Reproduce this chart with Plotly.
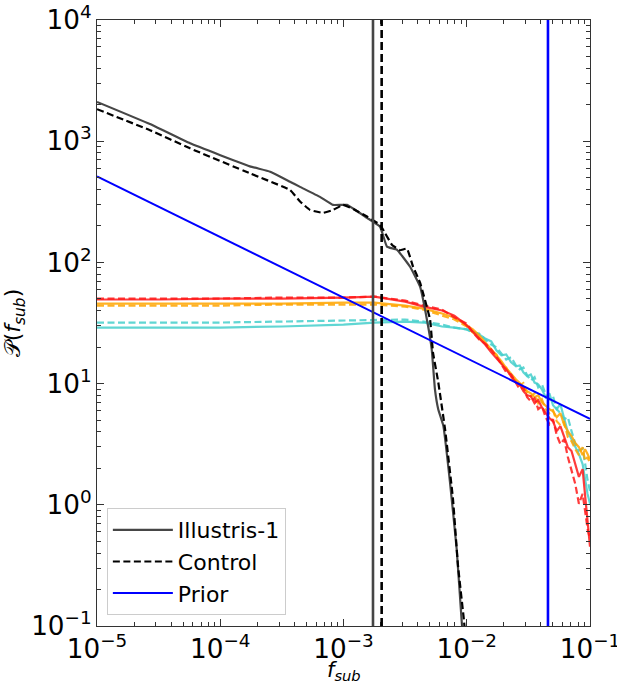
import plotly.graph_objects as go

# ---------------- data ----------------
illustris_f = [1.0e-5, 2.69e-5, 5.69e-5, 1.74e-4, 2.54e-4, 3.68e-4, 4.44e-4, 6.44e-4, 8.22e-4,
               1.067e-3, 1.55e-3, 1.98e-3, 2.25e-3, 2.72e-3, 3.47e-3, 4.18e-3, 4.75e-3, 5.2e-3,
               5.52e-3, 5.87e-3, 6.46e-3, 7.31e-3, 8.28e-3, 9.1e-3, 9.55e-3]
illustris_p = [2110, 1384, 960, 620, 560, 463, 420, 347, 298,
               298, 233, 197, 135, 127, 92, 63, 33.8, 19.1,
               8.98, 6.15, 4.48, 1.54, 0.434, 0.109, 0.06]

control_f = [1.0e-5, 2.69e-5, 5.69e-5, 1.74e-4, 3.68e-4, 4.44e-4, 5.35e-4, 6.82e-4, 8.22e-4,
             9.91e-4, 1.24e-3, 1.55e-3, 1.98e-3, 2.17e-3, 2.47e-3, 2.87e-3, 3.27e-3, 3.66e-3,
             4.18e-3, 5.04e-3, 5.32e-3, 5.87e-3, 6.67e-3, 7.73e-3, 8.49e-3, 9.51e-3, 9.86e-3]
control_p = [1837, 1233, 873, 543, 396, 318, 271, 256, 271,
             298, 271, 239, 204, 175, 140, 126, 130, 92.7,
             68, 33.8, 18.1, 10.3, 4.2, 1.12, 0.316, 0.109, 0.07]

prior_f = [1.0e-5, 1.0e-1]
prior_p = [512, 5.12]

# shared abscissae of the six coloured posterior curves
post_f = [1.0e-5, 3.16e-5, 1.0e-4, 3.16e-4, 1.0e-3, 1.78e-3, 3.16e-3, 4.47e-3, 6.31e-3, 7.94e-3,
          0.0100, 0.0112, 0.0126, 0.0141, 0.0158, 0.0174, 0.0191, 0.0209, 0.0229, 0.0251,
          0.0269, 0.0288, 0.0309, 0.0331, 0.0355, 0.0380, 0.0407, 0.0437, 0.0468, 0.0501,
          0.0537, 0.0575, 0.0617, 0.0661, 0.0708, 0.0759, 0.0813, 0.0871, 0.0912, 0.0955, 0.1000]

red_solid = [49.4, 49.4, 50.3, 50.3, 51.3, 52.2, 47.5, 43.2, 40.1, 36.4,
             30.2, 26.9, 24.0, 21.0, 18.1, 16.2, 14.7, 13.1, 11.5, 10.2,
             9.87, 8.65, 8.01, 7.86, 6.89, 7.29, 6.38, 5.70, 5.19, 4.90,
             4.05, 4.46, 3.62, 2.99, 2.78, 2.17, 1.70, 1.97, 1.18, 0.766, 0.451]
red_dashed = [50.3, 50.3, 50.3, 51.3, 51.3, 52.2, 48.4, 44.0, 40.8, 35.1,
              31.3, 26.4, 23.1, 21.4, 19.1, 16.8, 14.4, 12.4, 11.9, 10.1,
              8.98, 9.32, 7.72, 7.15, 7.57, 6.15, 6.51, 5.28, 4.63, 5.09,
              3.76, 3.17, 3.48, 2.48, 1.97, 1.49, 1.02, 1.23, 0.891, 0.634, 0.524]
orange_solid = [45.7, 45.7, 45.7, 45.7, 46.6, 46.6, 44.0, 41.6, 37.9, 35.1,
                30.2, 28.0, 25.0, 21.9, 19.1, 16.8, 15.3, 13.4, 11.9, 10.8,
                10.1, 9.15, 8.65, 8.32, 7.72, 8.01, 7.02, 6.51, 6.15, 5.92,
                5.28, 5.70, 4.54, 4.05, 3.69, 3.23, 2.99, 2.57, 2.88, 2.62, 2.38]
orange_dashed = [44.0, 44.0, 44.0, 44.9, 44.9, 44.9, 43.2, 40.8, 36.4, 33.8,
                 29.6, 26.4, 23.6, 21.4, 18.4, 17.4, 14.7, 13.6, 11.5, 10.4,
                 9.68, 10.1, 8.32, 7.86, 8.32, 6.89, 7.43, 6.15, 5.70, 6.03,
                 4.90, 4.54, 4.81, 3.62, 3.35, 2.88, 2.57, 2.99, 2.30, 2.48, 2.20]
teal_solid = [29.0, 29.0, 29.0, 29.6, 30.7, 31.9, 32.5, 31.9, 29.6, 29.0,
              28.0, 26.9, 25.4, 23.6, 22.3, 18.8, 17.1, 17.4, 15.0, 13.9,
              14.1, 12.4, 11.5, 11.9, 10.2, 9.87, 8.98, 7.72, 8.32, 6.63,
              6.15, 6.76, 5.28, 3.98, 3.48, 3.05, 2.62, 2.17, 1.63, 1.23, 1.02]
teal_dashed = [31.9, 31.9, 31.9, 32.5, 33.2, 33.8, 33.8, 32.5, 30.7, 29.0,
               28.0, 26.4, 25.9, 23.1, 21.0, 19.9, 17.8, 15.8, 16.5, 14.1,
               13.1, 13.6, 11.7, 10.6, 11.3, 9.32, 9.87, 8.17, 7.43, 7.86,
               6.15, 5.70, 5.09, 5.28, 4.05, 3.20, 2.80, 2.90, 2.20, 1.60, 1.30]

vline_illustris = 1.735e-3
vline_control = 2.04e-3
vline_prior = 0.0456

x_range_log = [-5, -1]
y_range_log = [-1, 4]

x_title = "<i>f</i><sub><i>sub</i></sub>"
y_title = "𝒫(<i>f</i><sub><i>sub</i></sub>)"

# ---------------- figure ----------------
GRAY = "#464646"
RED = "#ff1a1a"
ORANGE = "#ffa500"
TEAL = "#45cfcc"
DASH = "7px,3.5px"

fig = go.Figure()

posteriors = [
    (teal_solid, TEAL, "solid"),
    (teal_dashed, TEAL, DASH),
    (orange_solid, ORANGE, "solid"),
    (orange_dashed, ORANGE, DASH),
    (red_solid, RED, "solid"),
    (red_dashed, RED, DASH),
]
for vals, col, dash in posteriors:
    fig.add_trace(go.Scatter(x=post_f, y=vals, mode="lines", showlegend=False,
                             line=dict(color=col, width=2.2, dash=dash), opacity=0.85))

fig.add_trace(go.Scatter(x=illustris_f, y=illustris_p, mode="lines", name="Illustris-1",
                         line=dict(color=GRAY, width=2.2, shape="spline", smoothing=0.3)))
fig.add_trace(go.Scatter(x=control_f, y=control_p, mode="lines", name="Control",
                         line=dict(color="black", width=2.2, dash=DASH, shape="spline", smoothing=0.3)))
fig.add_trace(go.Scatter(x=prior_f, y=prior_p, mode="lines", name="Prior",
                         line=dict(color="#0000ff", width=2)))

for xv, col, dash in [(vline_illustris, GRAY, "solid"),
                      (vline_control, "black", "8px,4px"),
                      (vline_prior, "#0000ff", "solid")]:
    fig.add_shape(type="line", xref="x", yref="y domain", x0=xv, x1=xv, y0=0, y1=1,
                  line=dict(color=col, width=2.6, dash=dash))

axis_common = dict(
    type="log", dtick=1, exponentformat="power", showexponent="all",
    ticks="inside", ticklen=7, tickwidth=1, tickcolor="#333",
    minor=dict(ticks="inside", ticklen=3.5, tickwidth=0.8, tickcolor="#333", showgrid=False),
    showline=True, linecolor="#333", linewidth=1.3, mirror="allticks",
    showgrid=False, zeroline=False, automargin=False,
    tickfont=dict(family="DejaVu Sans", size=21, color="black"),
)

fig.update_xaxes(range=x_range_log, ticklabeloverflow="allow", **axis_common)
fig.update_yaxes(range=y_range_log, ticklabeloverflow="allow",
                 labelalias={"10": "10<sup>1</sup>", "1": "10<sup>0</sup>"},
                 title=dict(text=y_title, standoff=4,
                            font=dict(family="DejaVu Sans", size=22, color="black")),
                 **axis_common)

fig.add_annotation(text=x_title, xref="paper", yref="paper", x=0.5, y=-0.075,
                   xanchor="center", yanchor="middle", showarrow=False,
                   font=dict(family="DejaVu Sans", size=21, color="black"))

fig.update_layout(
    width=617, height=686,
    margin=dict(l=97, r=27, t=20, b=60, autoexpand=False),
    paper_bgcolor="white", plot_bgcolor="white",
    legend=dict(x=0.02, y=0.018, xanchor="left", yanchor="bottom",
                bgcolor="rgba(255,255,255,0.85)", bordercolor="#cccccc", borderwidth=1,
                font=dict(family="DejaVu Sans", size=22, color="black"),
                tracegroupgap=0, itemwidth=60),
    font=dict(family="DejaVu Sans"),
)

# remove the browser's default 8px page margin so the figure sits at the window origin
fig.write_html("out.html", config={"displayModeBar": False},
               post_script="document.body.style.margin='0px';")
